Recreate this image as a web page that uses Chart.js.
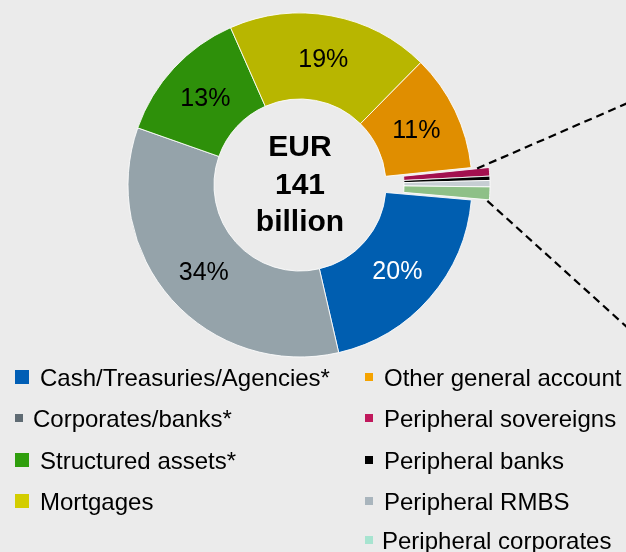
<!DOCTYPE html>
<html>
<head>
<meta charset="utf-8">
<script src="https://cdn.jsdelivr.net/npm/chart.js@4.4.1/dist/chart.umd.min.js"></script>
<style>
  html, body { margin: 0; padding: 0; background: #ebebeb; }
  #wrap { position: relative; width: 626px; height: 552px; overflow: hidden; background: #ebebeb; }
  #pie { position: absolute; left: 0; top: 0; }
  .item { position: absolute; font-family: "Liberation Sans", Arial, sans-serif; font-size: 24px; color: #000; white-space: nowrap; line-height: 1; }
  .swatch { position: absolute; }
</style>
</head>
<body>
<div id="wrap">
  <canvas id="pie" width="626" height="552"></canvas>
</div>
<script>
// Portfolio breakdown, EUR billion total and % share by asset class
const totalBillion = 141;
const categories = [
  'Cash/Treasuries/Agencies*',
  'Corporates/banks*',
  'Structured assets*',
  'Mortgages',
  'Other general account',
  'Peripheral sovereigns',
  'Peripheral banks',
  'Peripheral RMBS',
  'Peripheral corporates'
];
const shares = [20, 34, 13, 19, 11, 0.8, 0.4, 0.6, 1.2];

// Slice fills and the (slightly different) legend key fills
const sliceColors = ['#005eb0', '#95a3aa', '#2e900a', '#b8b600', '#e08e00', '#a3104f', '#000000', '#c6ced3', '#8ec087'];
const keyColors   = ['#005eb5', '#5f6b73', '#2f9e0d', '#d3cd00', '#f5a300', '#c0185c', '#000000', '#a9b5bd', '#a7e4d0'];

// The peripheral holdings are pulled out of the ring as one block
const isPeripheral = categories.map(c => c.startsWith('Peripheral'));
const pullOut = 18;

// Legend layout: two columns
const legendLayout = [
  { x: 15, text: 40, row: 0, size: 14 },
  { x: 15, text: 33, row: 1, size: 8 },
  { x: 15, text: 40, row: 2, size: 14 },
  { x: 15, text: 40, row: 3, size: 14 },
  { x: 365, text: 384, row: 0, size: 8 },
  { x: 365, text: 384, row: 1, size: 8 },
  { x: 365, text: 384, row: 2, size: 8 },
  { x: 365, text: 384, row: 3, size: 8 },
  { x: 365, text: 382, row: 4, size: 8 }
];
const legendRows = [378, 419, 461, 502, 541];

const FONT = '"Liberation Sans", Arial, sans-serif';

function peripheralArcs(chart) {
  const data = chart.getDatasetMeta(0).data;
  return data.filter((_, i) => isPeripheral[i]);
}

// Shift the peripheral block outward along its middle angle
const pullOutBlock = {
  id: 'pullOutBlock',
  afterUpdate(chart) {
    const arcs = peripheralArcs(chart);
    if (!arcs.length) return;
    const mid = (arcs[0].startAngle + arcs[arcs.length - 1].endAngle) / 2;
    const dx = Math.cos(mid) * pullOut, dy = Math.sin(mid) * pullOut;
    arcs.forEach(a => { a.x += dx; a.y += dy; });
  }
};

const valueLabels = {
  id: 'valueLabels',
  afterDatasetsDraw(chart) {
    const ctx = chart.ctx;
    const meta = chart.getDatasetMeta(0);
    ctx.save();
    ctx.font = '25px ' + FONT;
    ctx.textAlign = 'center';
    ctx.textBaseline = 'middle';
    meta.data.forEach((arc, i) => {
      const v = shares[i];
      if (v < 5) return;
      const p = arc.getCenterPoint();
      ctx.fillStyle = i === 0 ? '#ffffff' : '#000000';
      ctx.fillText(Math.round(v) + '%', p.x, p.y + 2);
    });
    ctx.restore();
  }
};

const centerText = {
  id: 'centerText',
  afterDraw(chart) {
    const ctx = chart.ctx;
    const arc = chart.getDatasetMeta(0).data[0];
    ctx.save();
    ctx.font = 'bold 30px ' + FONT;
    ctx.fillStyle = '#000';
    ctx.textAlign = 'center';
    ctx.textBaseline = 'middle';
    ctx.fillText('EUR', arc.x, arc.y - 37);
    ctx.fillText(String(totalBillion), arc.x, arc.y + 1);
    ctx.fillText('billion', arc.x, arc.y + 38);
    ctx.restore();
  }
};

// Dashed leader lines from the pulled-out block
const leaders = {
  id: 'leaders',
  afterDatasetsDraw(chart) {
    const ctx = chart.ctx;
    const arcs = peripheralArcs(chart);
    const first = arcs[0], last = arcs[arcs.length - 1];
    const a = { x: first.x + Math.cos(first.startAngle) * first.outerRadius, y: first.y + Math.sin(first.startAngle) * first.outerRadius };
    const b = { x: last.x + Math.cos(last.endAngle) * last.outerRadius, y: last.y + Math.sin(last.endAngle) * last.outerRadius };
    const up = -23.5 * Math.PI / 180, down = 42.5 * Math.PI / 180;
    ctx.save();
    ctx.strokeStyle = '#000';
    ctx.lineWidth = 2.2;
    ctx.setLineDash([8, 5]);
    ctx.beginPath();
    ctx.moveTo(a.x - 12, a.y + 1);
    ctx.lineTo(a.x - 12 + Math.cos(up) * 320, a.y + 1 + Math.sin(up) * 320);
    ctx.moveTo(b.x - 2, b.y + 1);
    ctx.lineTo(b.x + Math.cos(down) * 320, b.y + Math.sin(down) * 320);
    ctx.stroke();
    ctx.restore();
  }
};

new Chart(document.getElementById('pie'), {
  type: 'doughnut',
  data: {
    labels: categories,
    datasets: [{
      data: shares,
      backgroundColor: sliceColors,
      borderColor: 'rgba(255,255,255,0.85)',
      borderWidth: 1
    }]
  },
  options: {
    responsive: false,
    animation: false,
    rotation: 95,
    cutout: '50%',
    radius: 172,
    layout: { padding: { left: 0, right: 26, top: 0, bottom: 182 } },
    plugins: { legend: { display: false }, tooltip: { enabled: false } }
  },
  plugins: [pullOutBlock, leaders, valueLabels, centerText]
});

// Legend keys
const wrap = document.getElementById('wrap');
categories.forEach((name, i) => {
  const L = legendLayout[i];
  const cy = legendRows[L.row];
  const sw = document.createElement('div');
  sw.className = 'swatch';
  sw.style.left = L.x + 'px';
  sw.style.top = (cy - L.size / 2 - 1) + 'px';
  sw.style.width = L.size + 'px';
  sw.style.height = L.size + 'px';
  sw.style.background = keyColors[i];
  wrap.appendChild(sw);
  const t = document.createElement('div');
  t.className = 'item';
  t.textContent = name;
  t.style.left = L.text + 'px';
  t.style.top = (cy - 12) + 'px';
  wrap.appendChild(t);
});
</script>
</body>
</html>
